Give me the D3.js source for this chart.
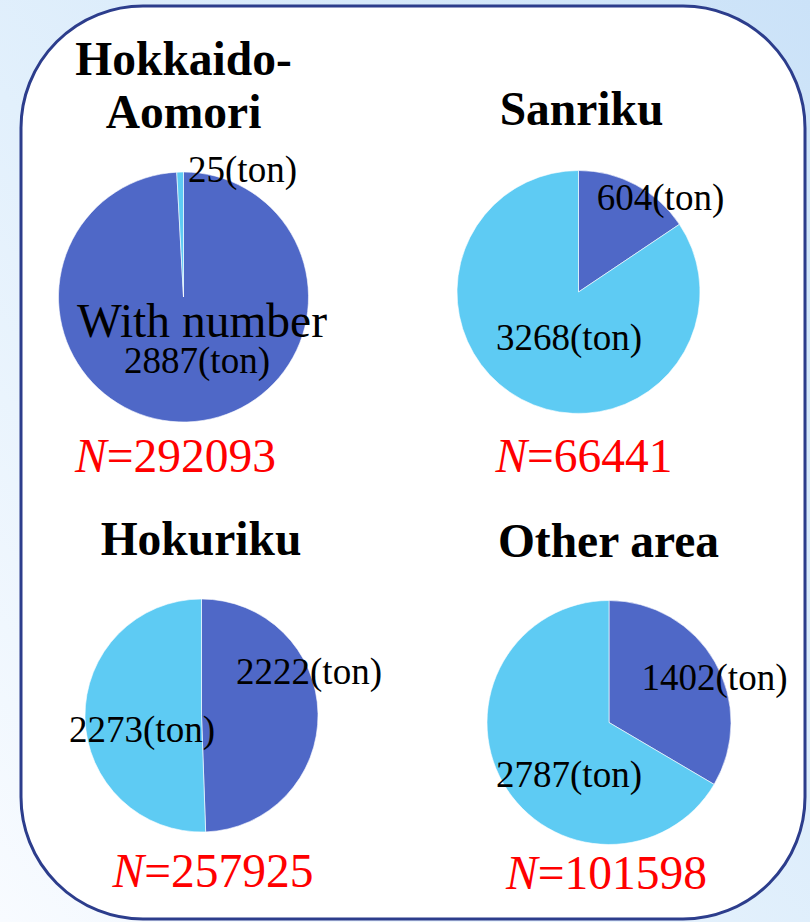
<!DOCTYPE html>
<html>
<head>
<meta charset="utf-8">
<script src="https://cdn.jsdelivr.net/npm/d3@7/dist/d3.min.js"></script>
</head>
<body style="margin:0">
<script>
// Catch by area: tonnage with / without number
const areas = ["Hokkaido-Aomori", "Sanriku", "Hokuriku", "Other area"];
const titleLines = [["Hokkaido-", "Aomori"], ["Sanriku"], ["Hokuriku"], ["Other area"]];
const withNumber = [2887, 604, 2222, 1402];
const withoutNumber = [25, 3268, 2273, 2787];
const sampleN = [292093, 66441, 257925, 101598];
const unitText = "(ton)";
const categoryText = "With number";

// Layout of each panel (pixels)
const panels = [
  { cx: 183.5, cy: 297,   r: 125,  titleY: [75, 128], titleX: 183.5, nX: 175.5, nY: 472,
    lab: [[13.5, 76], [59, -115]], cat: [18.5, 40] },
  { cx: 578.5, cy: 292,   r: 121.5, titleY: [125], titleX: 581.5, nX: 584, nY: 472,
    lab: [[82, -82], [-9.5, 58]] },
  { cx: 201.5, cy: 715.5, r: 116.5, titleY: [555], titleX: 201, nX: 213, nY: 887,
    lab: [[107.5, -31.5], [-59.5, 26.5]] },
  { cx: 609,   cy: 722.5, r: 122,  titleY: [557], titleX: 608.5, nX: 606.5, nY: 889,
    lab: [[105.5, -32.5], [-40, 64.5]] }
];

const W = 810, H = 922;
const color = d3.scaleOrdinal().domain(["with", "without"]).range(["#4f68c7", "#5ecbf3"]);

const svg = d3.select("body").append("svg").attr("width", W).attr("height", H)
  .attr("font-family", "Liberation Serif");

const defs = svg.append("defs");
const bg = defs.append("linearGradient").attr("id", "bg")
  .attr("x1", "0").attr("y1", "1").attr("x2", "1").attr("y2", "0");
bg.append("stop").attr("offset", "0").attr("stop-color", "#f8fbff");
bg.append("stop").attr("offset", "0.45").attr("stop-color", "#e2f0fc");
bg.append("stop").attr("offset", "1").attr("stop-color", "#cbe2f8");

svg.append("rect").attr("width", W).attr("height", H).attr("fill", "url(#bg)");

// Rounded white frame
svg.append("rect")
  .attr("x", 21).attr("y", 6).attr("width", 784).attr("height", 913)
  .attr("rx", 122).attr("ry", 122)
  .attr("fill", "#ffffff").attr("stroke", "#2c3d8c").attr("stroke-width", 3);

const pie = d3.pie().sort(null).value(d => d.value);

areas.forEach((area, i) => {
  const p = panels[i];
  const data = [
    { key: "with", value: withNumber[i] },
    { key: "without", value: withoutNumber[i] }
  ];
  const arc = d3.arc().innerRadius(0).outerRadius(p.r);
  const g = svg.append("g").attr("transform", `translate(${p.cx},${p.cy})`);

  g.selectAll("path.slice").data(pie(data)).join("path")
    .attr("class", "slice")
    .attr("d", arc)
    .attr("fill", d => color(d.data.key))
    .attr("stroke", "#ffffff").attr("stroke-width", 0.6);

  // value labels
  g.selectAll("text.val").data(data).join("text")
    .attr("class", "val")
    .attr("x", (d, j) => p.lab[j][0])
    .attr("y", (d, j) => p.lab[j][1])
    .attr("text-anchor", "middle")
    .attr("font-family", "Liberation Serif")
    .attr("font-size", 37).attr("fill", "#000")
    .text(d => d.value + unitText);

  if (p.cat) {
    g.append("text")
      .attr("x", p.cat[0]).attr("y", p.cat[1])
      .attr("text-anchor", "middle")
      .attr("font-family", "Liberation Serif")
      .attr("font-size", 47.5).attr("fill", "#000")
      .text(categoryText);
  }

  // title
  titleLines[i].forEach((line, k) => {
    svg.append("text")
      .attr("x", p.titleX).attr("y", p.titleY[k])
      .attr("text-anchor", "middle")
      .attr("font-family", "Liberation Serif")
      .attr("font-weight", "bold")
      .attr("font-size", 47.5).attr("fill", "#000")
      .text(line);
  });

  // sample size
  const t = svg.append("text")
    .attr("x", p.nX).attr("y", p.nY)
    .attr("text-anchor", "middle")
    .attr("font-family", "Liberation Serif")
    .attr("font-size", 47.5).attr("fill", "#ff0000");
  t.append("tspan").attr("font-style", "italic").text("N");
  t.append("tspan").text("=" + sampleN[i]);
});
</script>
</body>
</html>
